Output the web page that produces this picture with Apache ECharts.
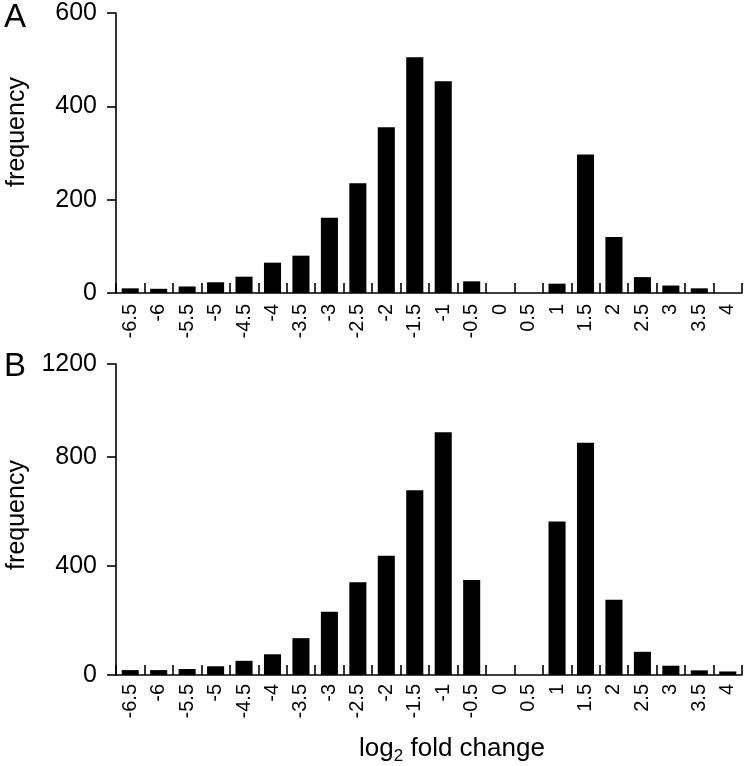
<!DOCTYPE html>
<html>
<head>
<meta charset="utf-8">
<script src="https://cdn.jsdelivr.net/npm/echarts@6/dist/echarts.min.js"></script>
<style>
  html, body { margin: 0; padding: 0; background: #fff; }
  #chart { width: 746px; height: 766px; }
</style>
</head>
<body>
<div id="chart"></div>
<script>
// ---- data ----
const categories = ['-6.5', '-6', '-5.5', '-5', '-4.5', '-4', '-3.5', '-3', '-2.5', '-2', '-1.5', '-1',
                    '-0.5', '0', '0.5', '1', '1.5', '2', '2.5', '3', '3.5', '4'];
const freqA = [10, 9, 14, 23, 35, 65, 80, 161, 235, 355, 505, 454, 25, 0, 0, 20, 297, 120, 34, 16, 10, 0];
const freqB = [18, 18, 22, 32, 52, 76, 135, 232, 340, 437, 677, 890, 348, 0, 0, 563, 851, 276, 85, 34, 17, 13];
const yTicksA = [0, 200, 400, 600];
const yTicksB = [0, 400, 800, 1200];
// in the reference, the top "1200" tick of panel B sits where ~1140 falls on the 0/400/800 scale
const yTopB = 1140;
const panelLetters = ['A', 'B'];
const yName = 'frequency';

const FONT = "'Liberation Sans', Arial, Helvetica, sans-serif";
const INK = '#000';

const chart = echarts.init(document.getElementById('chart'), null, { renderer: 'canvas' });

function xAxisCfg(gridIndex, margin) {
  return {
    type: 'category',
    gridIndex: gridIndex,
    data: categories,
    boundaryGap: true,
    axisLine: { show: true, onZero: false, lineStyle: { color: INK, width: 1.6 } },
    axisTick: { show: true, inside: true, length: 10, alignWithLabel: false, interval: 0,
                lineStyle: { color: INK, width: 1.6 } },
    axisLabel: { show: true, interval: 0, rotate: 90, margin: margin, color: INK,
                 fontFamily: FONT, fontSize: 20, hideOverlap: false },
    splitLine: { show: false }
  };
}

function yAxisCfg(gridIndex, ticks, top, fmt) {
  return {
    type: 'value',
    gridIndex: gridIndex,
    min: ticks[0],
    max: top,
    interval: ticks[1] - ticks[0],
    axisLine: { show: true, lineStyle: { color: INK, width: 1.6 } },
    axisTick: { show: true, inside: false, length: 9, lineStyle: { color: INK, width: 1.6 } },
    axisLabel: { show: true, margin: 19, color: INK, fontFamily: FONT, fontSize: 25,
                 showMaxLabel: true, showMinLabel: true, formatter: fmt },
    splitLine: { show: false }
  };
}

const option = {
  animation: false,
  backgroundColor: '#fff',
  grid: [
    { left: 116, right: 4, top: 13, height: 280, containLabel: false, outerBoundsMode: 'none' },
    { left: 116, right: 4, top: 364, height: 311, containLabel: false, outerBoundsMode: 'none' }
  ],
  xAxis: [xAxisCfg(0, 11), xAxisCfg(1, 9)],
  yAxis: [
    yAxisCfg(0, yTicksA, yTicksA[yTicksA.length - 1], function (v) { return String(v); }),
    yAxisCfg(1, yTicksB, yTopB, function (v) {
      return v >= yTopB ? String(yTicksB[yTicksB.length - 1]) : String(v);
    })
  ],
  series: [
    { type: 'bar', xAxisIndex: 0, yAxisIndex: 0, data: freqA, barCategoryGap: '40%',
      itemStyle: { color: INK }, silent: true },
    { type: 'bar', xAxisIndex: 1, yAxisIndex: 1, data: freqB, barCategoryGap: '40%',
      itemStyle: { color: INK }, silent: true }
  ],
  graphic: [
    { type: 'text', x: 15, y: 18, silent: true,
      style: { text: panelLetters[0], font: '33px ' + FONT, fill: INK, align: 'center', verticalAlign: 'middle' } },
    { type: 'text', x: 15, y: 367, silent: true,
      style: { text: panelLetters[1], font: '33px ' + FONT, fill: INK, align: 'center', verticalAlign: 'middle' } },
    { type: 'text', x: 17, y: 132, rotation: Math.PI / 2, silent: true,
      style: { text: yName, font: '25px ' + FONT, fill: INK, align: 'center', verticalAlign: 'middle' } },
    { type: 'text', x: 17, y: 515, rotation: Math.PI / 2, silent: true,
      style: { text: yName, font: '25px ' + FONT, fill: INK, align: 'center', verticalAlign: 'middle' } },
    { type: 'text', x: 452, y: 749, silent: true,
      style: {
        text: 'log{sub|2} fold change',
        fontFamily: FONT, fontSize: 26, fill: INK, align: 'center', verticalAlign: 'middle',
        lineHeight: 32,
        rich: {
          sub: { fontFamily: FONT, fontSize: 17, fill: INK, verticalAlign: 'bottom', lineHeight: 15 }
        }
      } }
  ]
};

chart.setOption(option);
</script>
</body>
</html>
